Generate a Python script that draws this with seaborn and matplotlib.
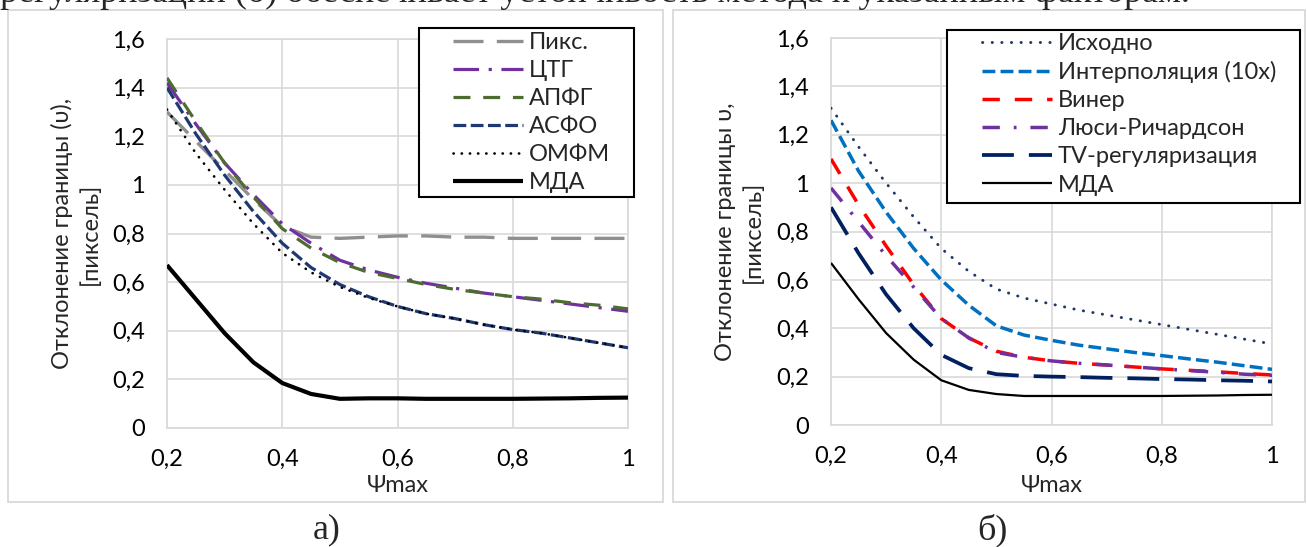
import matplotlib
import matplotlib.pyplot as plt
import pandas as pd
import seaborn as sns
from matplotlib.patches import Rectangle

matplotlib.use("Agg")

# data (x step 0.05)
PSI = [0.2, 0.25, 0.3, 0.35, 0.4, 0.45, 0.5, 0.55, 0.6, 0.65, 0.7, 0.75, 0.8, 0.85, 0.9, 0.95, 1.0]

# panel a
PIKS = [1.30, 1.18, 1.06, 0.94, 0.83, 0.785, 0.78, 0.785, 0.79, 0.79, 0.785, 0.785, 0.78, 0.78, 0.78, 0.78, 0.78]
CTG = [1.42, 1.25, 1.09, 0.96, 0.84, 0.76, 0.69, 0.65, 0.62, 0.595, 0.575, 0.555, 0.54, 0.525, 0.51, 0.495, 0.48]
APFG = [1.44, 1.26, 1.09, 0.95, 0.82, 0.74, 0.68, 0.64, 0.615, 0.59, 0.57, 0.555, 0.54, 0.53, 0.515, 0.505, 0.49]
ASFO = [1.40, 1.21, 1.04, 0.89, 0.76, 0.66, 0.59, 0.54, 0.50, 0.47, 0.45, 0.425, 0.405, 0.39, 0.37, 0.35, 0.33]
OMFM = [1.31, 1.13, 0.98, 0.84, 0.72, 0.64, 0.58, 0.535, 0.50, 0.47, 0.45, 0.425, 0.405, 0.39, 0.37, 0.35, 0.33]
MDA_A = [0.67, 0.53, 0.39, 0.27, 0.185, 0.14, 0.12, 0.122, 0.122, 0.12, 0.12, 0.12, 0.12, 0.121, 0.122, 0.124, 0.125]

# panel b
ISHODNO = [1.31, 1.15, 1.00, 0.86, 0.73, 0.635, 0.562, 0.525, 0.50, 0.475, 0.455, 0.435, 0.415, 0.395, 0.375, 0.355, 0.335]
INTERP = [1.26, 1.05, 0.88, 0.73, 0.60, 0.495, 0.41, 0.372, 0.35, 0.33, 0.315, 0.30, 0.287, 0.273, 0.26, 0.245, 0.23]
WIENER = [1.10, 0.91, 0.74, 0.58, 0.44, 0.36, 0.305, 0.28, 0.265, 0.255, 0.248, 0.24, 0.232, 0.226, 0.22, 0.213, 0.207]
LUCY = [0.98, 0.84, 0.70, 0.57, 0.44, 0.36, 0.30, 0.28, 0.265, 0.255, 0.248, 0.24, 0.232, 0.225, 0.218, 0.21, 0.205]
TV = [0.90, 0.71, 0.54, 0.40, 0.29, 0.235, 0.21, 0.203, 0.20, 0.198, 0.195, 0.193, 0.19, 0.188, 0.185, 0.183, 0.18]
MDA_B = [0.67, 0.52, 0.38, 0.27, 0.185, 0.145, 0.128, 0.12, 0.12, 0.12, 0.12, 0.12, 0.12, 0.121, 0.122, 0.124, 0.125]

X_TICKS = [0.2, 0.4, 0.6, 0.8, 1.0]
X_TICK_LABELS = ["0,2", "0,4", "0,6", "0,8", "1"]
Y_TICKS = [0, 0.2, 0.4, 0.6, 0.8, 1.0, 1.2, 1.4, 1.6]
Y_TICK_LABELS = ["0", "0,2", "0,4", "0,6", "0,8", "1", "1,2", "1,4", "1,6"]

# (label, values, color, linewidth, linestyle, capstyle)
SERIES_A = [
    ("Пикс.", PIKS, "#8f8f8f", 2.4, (0, (9, 4)), "butt"),
    ("ЦТГ", CTG, "#7030a0", 2.3, (0, (8, 3, 1, 3)), "butt"),
    ("АПФГ", APFG, "#4e6b30", 2.3, (0, (5.3, 4)), "butt"),
    ("АСФО", ASFO, "#1f3872", 2.3, (0, (4, 1.4)), "butt"),
    ("ОМФМ", OMFM, "#000000", 1.9, (0, (0.1, 3.0)), "round"),
    ("МДА", MDA_A, "#000000", 3.0, "-", "butt"),
]
SERIES_B = [
    ("Исходно", ISHODNO, "#1f3864", 2.1, (0, (0.1, 3.2)), "round"),
    ("Интерполяция (10x)", INTERP, "#0070c0", 2.5, (0, (3.7, 1.5)), "butt"),
    ("Винер", WIENER, "#ff0000", 2.5, (0, (5, 4.3)), "butt"),
    ("Люси-Ричардсон", LUCY, "#7030a0", 2.5, (0, (5, 4, 0.8, 4)), "butt"),
    ("TV-регуляризация", TV, "#002060", 2.7, (0, (8.5, 4)), "butt"),
    ("МДА", MDA_B, "#000000", 1.6, "-", "butt"),
]

GRID = "#d9d9d9"
FONT = ["Lato", "DejaVu Sans"]
SERIF = ["Liberation Serif", "DejaVu Serif"]
FS = 17

sns.set_theme(style="whitegrid")
plt.rcParams["font.family"] = FONT
plt.rcParams["axes.unicode_minus"] = False

fig = plt.figure(figsize=(13.07, 5.47), dpi=100)
W, H = 1307, 547


def px_axes(x0, x1, ytop, ybot):
    return fig.add_axes([x0 / W, 1 - ybot / H, (x1 - x0) / W, (ybot - ytop) / H])


ax_a = px_axes(167, 628, 39, 428)
ax_b = px_axes(831, 1272, 38, 425)


def draw_panel(ax, series, ylabel, label_x, xlabel_y, box, handle_x, first_top):
    for label, values, color, lw, ls, cap in series:
        df = pd.DataFrame({"psi": PSI, "dev": values})
        sns.lineplot(
            data=df, x="psi", y="dev", ax=ax, color=color, lw=lw, linestyle=ls,
            dash_capstyle=cap, solid_capstyle="butt", label=label, zorder=3,
        )
    ax.set_xlim(0.2, 1.0)
    ax.set_ylim(0, 1.6)
    ax.set_xticks(X_TICKS)
    ax.set_xticklabels(X_TICK_LABELS)
    ax.set_yticks(Y_TICKS)
    ax.set_yticklabels(Y_TICK_LABELS)
    ax.tick_params(axis="both", length=0, labelsize=FS, colors="black")
    ax.tick_params(axis="x", pad=15)
    ax.tick_params(axis="y", pad=16)
    ax.grid(True, color=GRID, lw=1.2)
    ax.set_facecolor("white")
    for sp in ax.spines.values():
        sp.set_visible(True)
        sp.set_color(GRID)
        sp.set_linewidth(1.2)
    ax.set_xlabel("Ψmax", fontsize=FS, labelpad=0)
    ax.xaxis.set_label_coords(0.5, xlabel_y)
    ax.set_ylabel(ylabel, fontsize=FS, ha="center", va="center", linespacing=1.35)
    ax.yaxis.set_label_coords(label_x, 0.5)

    # legend box drawn separately so the entries can sit inset like the original
    x0, y0, x1, y1 = box
    ax.add_patch(Rectangle((x0 / W, 1 - y1 / H), (x1 - x0) / W, (y1 - y0) / H,
                           transform=fig.transFigure, clip_on=False, fc="white",
                           ec="black", lw=1.5, zorder=4))
    leg = ax.legend(
        loc="upper left",
        bbox_to_anchor=(handle_x / W, 1 - first_top / H),
        bbox_transform=fig.transFigure,
        fontsize=FS,
        frameon=False,
        handlelength=2.97,
        handletextpad=0.25,
        labelspacing=0.3,
        borderpad=0,
        borderaxespad=0,
    )
    leg.set_zorder(5)


draw_panel(ax_a, SERIES_A, "Отклонение границы (υ),\n[пиксель]", -0.197, -0.121,
           (419, 28, 634, 197), 453, 32)
draw_panel(ax_b, SERIES_B, "Отклонение границы υ,\n[пиксель]", -0.207, -0.129,
           (947, 30, 1300, 203), 982, 33)

# chart frames
for x0, x1 in [(8, 663), (673, 1305)]:
    fig.add_artist(Rectangle((x0 / W, 1 - 502 / H), (x1 - x0) / W, 492 / H,
                             transform=fig.transFigure, fill=False, ec=GRID, lw=1.3))

# captions and the clipped line of body text above
fig.text(327 / W, 1 - 530 / H, "а)", ha="center", va="center", fontsize=26, family=SERIF)
fig.text(992 / W, 1 - 530 / H, "б)", ha="center", va="center", fontsize=26, family=SERIF)
fig.text(0.0, 1 - 2.5 / H, "регуляризации (б) обеспечивает устойчивость метода к указанным факторам.",
         ha="left", va="baseline", fontsize=26, family=SERIF)

fig.savefig("out.png", dpi=100, facecolor="white")
